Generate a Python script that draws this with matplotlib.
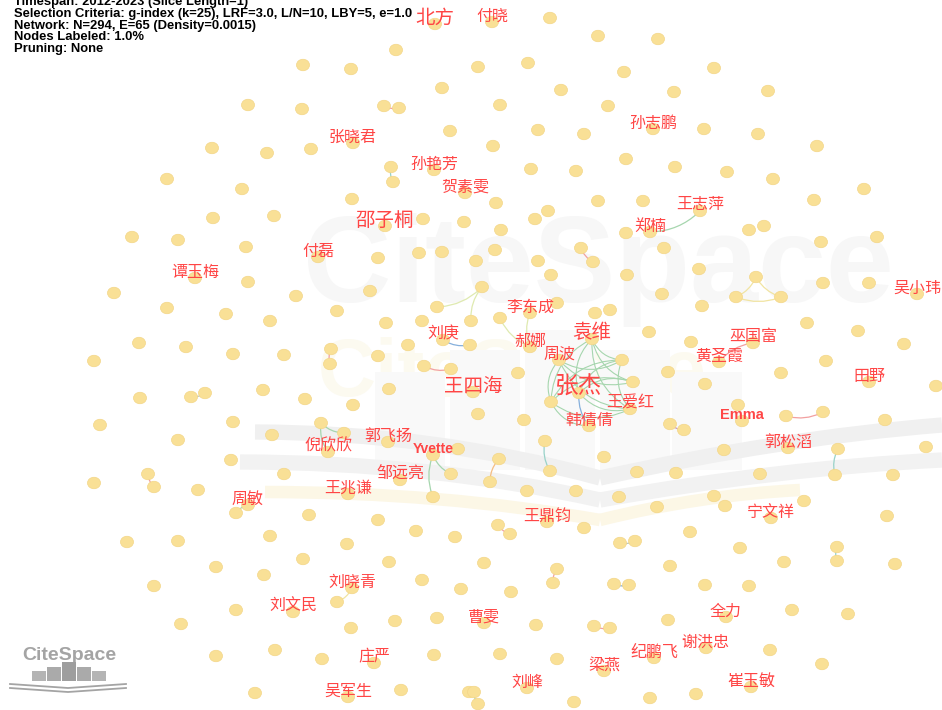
import matplotlib
matplotlib.use("Agg")
import matplotlib.pyplot as plt
import numpy as np
from matplotlib.collections import EllipseCollection
from matplotlib.patches import FancyArrowPatch, Rectangle, PathPatch
from matplotlib.path import Path

plt.rcParams['font.family'] = ['Noto Sans CJK SC', 'DejaVu Sans']

# node layout (pixel space of the original CiteSpace canvas)
node_pos = [
    (212,148),(167,179),(213,218),(132,237),(178,240),(195,278),(114,293),(167,308),(226,314),(139,343),(186,347),(233,354),
    (435,24),(396,50),(303,65),(351,69),(442,88),(248,105),(302,109),(384,106),(399,108),(450,131),(353,143),(267,153),
    (311,149),(391,167),(393,182),(434,170),(465,193),(242,189),(352,199),(274,216),(385,226),(423,219),(464,222),(246,247),
    (318,257),(378,258),(419,253),(442,252),(248,282),(296,296),(370,291),(437,307),(471,321),(337,311),(270,321),(386,323),
    (422,321),(443,340),(408,345),(470,345),(284,355),(331,349),(378,356),
    (492,22),(550,18),(598,36),(658,39),(478,67),(528,63),(624,72),(674,92),(561,90),(500,105),(608,106),(653,129),(704,129),
    (538,130),(584,134),(493,146),(626,159),(531,169),(576,171),(675,167),(496,203),(548,211),(535,219),(598,201),(643,201),
    (700,211),(650,232),(626,233),(501,230),(495,250),(581,248),(593,262),(664,248),(476,261),(538,261),(551,275),(627,275),
    (699,269),(482,287),(662,294),(702,306),(530,313),(557,303),(500,318),(595,313),(610,310),(649,332),(592,339),(530,347),
    (691,342),
    (714,68),(768,91),(758,134),(817,146),(727,172),(773,179),(864,189),(814,200),(749,230),(764,226),(821,242),(877,237),
    (756,277),(736,297),(781,297),(823,283),(869,283),(917,294),(807,323),(858,331),(904,344),(753,343),
    (94,361),(140,398),(191,397),(205,393),(100,425),(178,440),(233,422),(231,460),(148,474),(154,487),(94,483),(198,490),
    (236,513),(127,542),(178,541),(216,567),(154,586),(236,610),(181,624),(216,656),
    (330,364),(424,366),(451,369),(263,390),(305,399),(353,405),(389,389),(473,392),(321,423),(344,433),(328,452),(272,435),
    (388,442),(433,455),(458,449),(451,474),(284,474),(400,480),(348,494),(433,497),(248,505),(309,515),(378,520),(416,531),
    (455,537),(270,536),(347,544),(303,559),(389,562),(264,575),(352,588),(422,580),(461,589),(337,602),(293,612),(351,628),
    (395,621),(437,618),(275,650),(322,659),(374,663),(434,655),(255,693),(348,697),(401,690),(469,692),
    (559,360),(622,360),(518,373),(668,372),(705,384),(633,382),(579,393),(551,402),(630,409),(478,414),(524,420),(589,426),
    (670,424),(684,430),(545,441),(550,471),(499,459),(490,482),(604,457),(637,472),(676,473),(527,491),(576,491),(619,497),
    (657,507),(547,522),(498,525),(510,534),(584,528),(690,532),(620,543),(635,541),(484,563),(557,569),(553,583),(614,584),
    (629,585),(670,566),(705,585),(511,592),(484,623),(536,625),(594,626),(610,628),(668,620),(500,654),(557,659),(604,671),
    (654,658),(706,648),(527,688),(474,692),(478,704),(574,702),(650,698),(696,694),
    (719,362),(826,361),(781,373),(869,382),(936,386),(738,405),(742,421),(786,416),(823,412),(885,420),(788,448),(724,450),
    (838,449),(835,475),(926,447),(760,474),(893,475),(714,496),(725,506),(804,501),(771,518),(887,516),(740,548),(837,547),
    (837,561),(784,562),(895,564),(749,586),(726,617),(792,610),(848,614),(770,650),(822,664),(751,687),
]
node_x = np.array([p[0] for p in node_pos], float)
node_y = np.array([p[1] for p in node_pos], float)

# labelled authors: name, node position, label size (pt)
label_names = ['北方', '付晓', '孙志鹏', '张晓君', '孙艳芳', '贺素雯', '王志萍', '邵子桐', '郑楠', '付磊',
               '谭玉梅', '吴小玮', '李东成', '刘庚', '袁维', '郝娜', '巫国富', '周波', '黄圣霞', '田野',
               '王四海', '张杰', '王爱红', 'Emma', '韩倩倩', '郭飞扬', '倪欣欣', 'Yvette', '郭松滔', '邹远亮',
               '王兆谦', '周敏', '王鼎钧', '宁文祥', '刘晓青', '刘文民', '全力', '曹雯', '谢洪忠', '纪鹏飞',
               '庄严', '梁燕', '刘峰', '崔玉敏', '吴军生']
label_nodes = [(435,24),(492,22),(653,129),(353,143),(434,170),(465,193),(700,211),(385,226),(650,232),(318,257),
               (195,278),(917,294),(530,313),(443,340),(592,339),(530,347),(753,343),(559,360),(719,362),(869,382),
               (473,392),(579,393),(630,409),(742,421),(589,426),(388,442),(328,452),(433,455),(788,448),(400,480),
               (348,494),(248,505),(547,522),(771,518),(352,588),(293,612),(726,617),(484,623),(705,648),(654,658),
               (374,663),(604,671),(527,688),(751,687),(348,697)]
label_size = [14, 11.5, 11.5, 11.5, 11.5, 11.5, 11.5, 14, 11.5, 11.5,
              11.5, 11.5, 11.5, 11.5, 14, 11.5, 11.5, 11.5, 11.5, 11.5,
              14, 17, 11.5, 10.5, 11.5, 11.5, 11.5, 10, 11.5, 11.5,
              11.5, 11.5, 11.5, 11.5, 11.5, 11.5, 11.5, 11.5, 11.5, 11.5,
              11.5, 11.5, 11.5, 11.5, 11.5]

# co-authorship links (endpoints snap to nearest node)
cluster = [(592,339),(559,360),(622,360),(633,382),(579,393),(551,402),(630,409),(589,426)]
cluster_links = [(0,2),(0,3),(0,4),(0,5),(0,6),(1,2),(1,3),(1,6),(2,5),(2,4),(3,5),(3,4),(5,6),(4,6),(5,7),(1,5),(2,6)]
edges = [((579,393),(589,426),'blue'),
         ((437,307),(482,287),'lime'),((482,287),(471,321),'lime'),((500,318),(530,347),'lime'),((530,313),(530,347),'lime'),
         ((443,340),(470,345),'blue'),((424,366),(451,369),'red'),((433,455),(451,474),'green'),((433,455),(433,497),'green'),
         ((321,423),(344,433),'green'),((321,423),(328,452),'green'),((248,505),(236,513),'green'),((148,474),(154,487),'red'),
         ((191,397),(205,393),'gray'),((384,106),(399,108),'red'),((391,167),(393,182),'teal'),((650,232),(700,211),'green'),
         ((581,248),(593,262),'red'),((736,297),(756,277),'yellow'),((756,277),(781,297),'yellow'),((736,297),(781,297),'yellow'),
         ((753,343),(719,362),'red'),((786,416),(823,412),'red'),((838,449),(835,475),'teal'),((837,547),(837,561),'teal'),
         ((670,424),(684,430),'purple'),((545,441),(550,471),'teal'),((499,459),(490,482),'orange'),((498,525),(510,534),'red'),
         ((620,543),(635,541),'gray'),((557,569),(553,583),'red'),((614,584),(629,585),'blue'),((594,626),(610,628),'red'),
         ((337,602),(352,588),'yellow'),((474,692),(478,704),'teal'),((331,349),(330,364),'red')]
edge_colors = {'green': '#a6d6ae', 'blue': '#86b0dc', 'red': '#f2a0a0', 'lime': '#dfeab0', 'gray': '#bcc6c0',
               'teal': '#98d2c8', 'yellow': '#f1e4a2', 'purple': '#c896bc', 'orange': '#f5bd82'}


def nearest(p):
    return int(np.argmin((node_x - p[0]) ** 2 + (node_y - p[1]) ** 2))


fig = plt.figure(figsize=(9.42, 7.10), dpi=100)
ax = fig.add_axes([0, 0, 1, 1])
ax.set_xlim(0, 942)
ax.set_ylim(710, 0)
ax.axis('off')

# faint CiteSpace watermark
ax.text(303, 302, 'CiteSpace', fontsize=88, fontweight='bold', family=['Liberation Sans'],
        color='#f7f7f7', va='baseline', ha='left', zorder=0)
ax.text(318, 396, 'CiteSpace', fontsize=58, fontweight='bold', family=['Liberation Sans'],
        color='#fcfaf0', va='baseline', ha='left', zorder=0)
for x0, top in zip([375, 450, 525, 600, 672], [372, 350, 330, 350, 372]):
    ax.add_patch(Rectangle((x0, top), 70, 470 - top, facecolor='#f9f9f9', edgecolor='none', zorder=0))
for (a, c, b), col, w in [(((255, 432), (430, 432), (600, 478)), '#f0f0f0', 11),
                         (((600, 478), (780, 438), (942, 425)), '#f0f0f0', 11),
                         (((240, 462), (430, 462), (600, 500)), '#f2f2f2', 11),
                         (((600, 500), (780, 468), (942, 460)), '#f2f2f2', 11),
                         (((265, 492), (440, 492), (600, 520)), '#fcf7e6', 9),
                         (((600, 520), (700, 495), (800, 490)), '#fcf7e6', 9)]:
    path = Path([a, c, b], [Path.MOVETO, Path.CURVE3, Path.CURVE3])
    ax.add_patch(PathPatch(path, facecolor='none', edgecolor=col, lw=w, zorder=0))

# links
for i, j in cluster_links:
    ia, ib = nearest(cluster[i]), nearest(cluster[j])
    ax.add_patch(FancyArrowPatch((node_x[ia], node_y[ia]), (node_x[ib], node_y[ib]),
                                 arrowstyle='-', connectionstyle='arc3,rad=0.3',
                                 color=edge_colors['green'], lw=0.8, zorder=1))
for a, b, c in edges:
    ia, ib = nearest(a), nearest(b)
    ax.add_patch(FancyArrowPatch((node_x[ia], node_y[ia]), (node_x[ib], node_y[ib]),
                                 arrowstyle='-', connectionstyle='arc3,rad=0.2',
                                 color=edge_colors[c], lw=0.9, zorder=1))

# nodes
ec = EllipseCollection(np.full(len(node_x), 13.0), np.full(len(node_x), 11.5), np.zeros(len(node_x)),
                       units='xy', offsets=np.column_stack([node_x, node_y]),
                       offset_transform=ax.transData, facecolors='#f9e096', edgecolors='#f3d688',
                       linewidths=0.5, zorder=2)
ax.add_collection(ec)

# labels
for name, (lx, ly), fs in zip(label_names, label_nodes, label_size):
    latin = name.isascii()
    ax.text(lx, ly - 6, name, fontsize=fs, color='#ff4545', ha='center', va='center',
            fontweight='bold' if latin else 'normal',
            family=['Liberation Sans'] if latin else ['Noto Sans CJK SC', 'DejaVu Sans'],
            zorder=3)

# header
header = ['Timespan: 2012-2023 (Slice Length=1)',
          'Selection Criteria: g-index (k=25), LRF=3.0, L/N=10, LBY=5, e=1.0',
          'Network: N=294, E=65 (Density=0.0015)',
          'Nodes Labeled: 1.0%',
          'Pruning: None']
for k, line in enumerate(header):
    ax.text(14, 5.5 + k * 11.6, line, fontsize=9.4, fontweight='bold', family=['Liberation Sans'],
            color='black', va='baseline', ha='left', zorder=4)

# small CiteSpace logo
ax.text(22, 660, 'CiteSpace', fontsize=14, fontweight='bold', family=['Liberation Sans'],
        color='#a4a4a4', va='baseline', ha='left', zorder=4)
for x0, top, shade in zip([32, 47, 62, 77, 92], [671, 667, 662, 667, 671],
                          ['#b4b4b4', '#aaaaaa', '#9e9e9e', '#aaaaaa', '#b4b4b4']):
    ax.add_patch(Rectangle((x0, top), 14, 681 - top, facecolor=shade, edgecolor='none', zorder=4))
for dy in (0, 4):
    ax.plot([10, 68, 126], [684 + dy, 688 + dy, 684 + dy], color='#a4a4a4', lw=1.3, zorder=4)

fig.savefig('out.png', dpi=100, facecolor='white')
